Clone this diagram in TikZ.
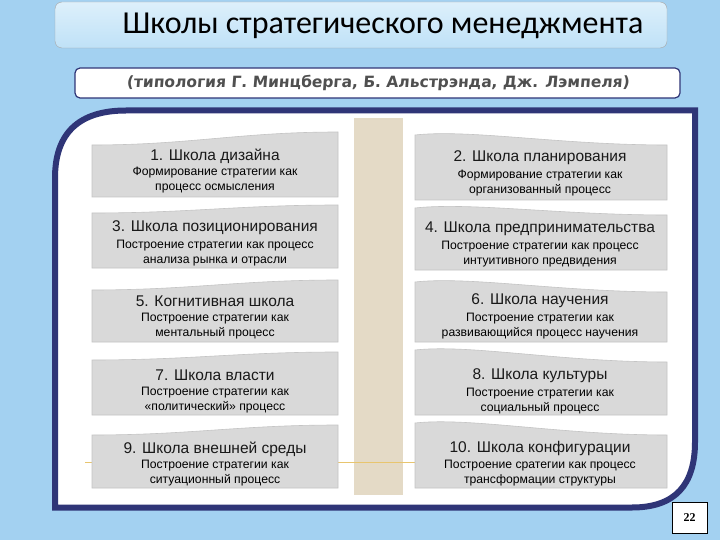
\documentclass[tikz,border=0pt]{standalone}
\usepackage{fontspec}
\setmainfont{Liberation Sans}
\newfontfamily\headfont{Carlito}
\newfontfamily\typofont[FakeSlant=0.08]{DejaVu Sans}
\newfontfamily\numfont{Liberation Serif}

\definecolor{framenavy}{HTML}{2F3577}
\definecolor{boxgray}{HTML}{D9D9D9}
\definecolor{boxedge}{HTML}{C4C4C4}
\definecolor{beigecol}{HTML}{E4DAC6}
\definecolor{skyblue}{HTML}{A3D1F1}
\definecolor{paleblue}{HTML}{EEF7FD}
\definecolor{headtop}{HTML}{DDF0FB}
\definecolor{headbot}{HTML}{BFE1F7}
\definecolor{rulegold}{HTML}{E8C56E}
\definecolor{typogray}{HTML}{505050}

\tikzset{
	school/.style={font=\fontsize{15.5}{17}\selectfont, text=black!90},
	note/.style={font=\fontsize{12.2}{14.5}\selectfont, align=center, text=black},
	lbox/.style={fill=boxgray, draw=boxedge, line width=0.6},
}

\begin{document}
\begin{tikzpicture}[x=1pt,y=-1pt]
	\useasboundingbox (0,0) rectangle (720,540);
	\shade[left color=skyblue, middle color=paleblue, right color=skyblue] (0,0) rectangle (720,540);
	
	\draw[rounded corners=7, draw=black!35, top color=headtop, bottom color=headbot] (55,2) rectangle (667,48);
	\node[font=\headfont\fontsize{32}{34}\selectfont] (title) at (383,26) {Школы стратегического менеджмента};
	
	\draw[rounded corners=5, draw=framenavy, line width=1.2, fill=white] (75,68) rectangle (680,98);
	\node[font=\typofont\bfseries\fontsize{15.5}{18}\selectfont, text=typogray] (typo) at (378,83) {(типология Г. Минцберга, Б. Альстрэнда, Дж. Лэмпеля)};
	
	\draw[framenavy, line width=6, fill=white] (55,507.5) -- (55,178) .. controls (55,132) and (80,110.5) .. (126,110.5) -- (695,110.5) -- (695,442) .. controls (695,485) and (675,507.5) .. (632,507.5) -- cycle;
	
	\fill[beigecol] (354,118) rectangle (403,495);
	\draw[rulegold, line width=1] (85,462) -- (660,462);
	
	\foreach \tl/\tr/\b in {145/132/197, 213/205/268, 290/280/342, 360/352/415, 435/425/488}
		\draw[lbox] (92,\tl) .. controls (190,\tl) and (240,\tr) .. (338,\tr) -- (338,\b) -- (92,\b) -- cycle;
	\foreach \tl/\tr/\b in {135/145/200, 208/215/270, 282/292/342, 350/362/415, 423/435/488}
		\draw[lbox] (415,\tl) .. controls (470,\tl-6) and (560,\tr) .. (667,\tr) -- (667,\b) -- (415,\b) -- cycle;
	
	\node[school] (s1) at (215,156) {1. Школа дизайна};
	\node[note] (d1) at (215,180) {Формирование стратегии как\\процесс осмысления};
	\node[school] (s3) at (215,228) {3. Школа позиционирования};
	\node[note] (d3) at (215,253) {Построение стратегии как процесс\\анализа рынка и отрасли};
	\node[school] (s5) at (215,301) {5. Когнитивная школа};
	\node[note] (d5) at (215,326) {Построение стратегии как\\ментальный процесс};
	\node[school] (s7) at (215,375) {7. Школа власти};
	\node[note] (d7) at (215,400) {Построение стратегии как\\«политический» процесс};
	\node[school] (s9) at (215,449) {9. Школа внешней среды};
	\node[note] (d9) at (215,473) {Построение стратегии как\\ситуационный процесс};
	
	\node[school] (s2) at (540,158) {2. Школа планирования};
	\node[note] (d2) at (540,183) {Формирование стратегии как\\организованный процесс};
	\node[school] (s4) at (540,229) {4. Школа предпринимательства};
	\node[note] (d4) at (540,254) {Построение стратегии как процесс\\интуитивного предвидения};
	\node[school] (s6) at (540,301) {6. Школа научения};
	\node[note] (d6) at (540,326) {Построение стратегии как\\развивающийся процесс научения};
	\node[school] (s8) at (540,376) {8. Школа культуры};
	\node[note] (d8) at (540,401) {Построение стратегии как\\социальный процесс};
	\node[school] (s10) at (540,448) {10. Школа конфигурации};
	\node[note] (d10) at (540,473) {Построение сратегии как процесс\\трансформации структуры};
	
	\node[draw, fill=white, minimum width=35, minimum height=31, font=\numfont\bfseries\fontsize{12}{14}\selectfont] (page) at (689.5,517.5) {22};
\end{tikzpicture}
\end{document}
